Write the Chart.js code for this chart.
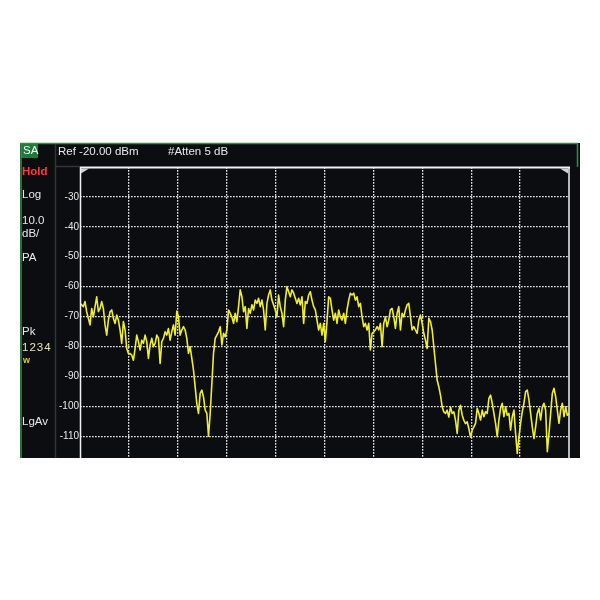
<!DOCTYPE html>
<html>
<head>
<meta charset="utf-8">
<script src="https://cdn.jsdelivr.net/npm/chart.js@4"></script>
<style>
  html, body { margin: 0; background: #fff; }
  #wrap { position: relative; width: 600px; height: 600px; }
  #wrap canvas { position: absolute; left: 0; top: 0; }
  .lbl {
    position: absolute; transform: translateY(-50%);
    font: 11.5px "Liberation Sans", Arial, sans-serif; line-height: 1;
    color: #e8e8e8; white-space: nowrap;
  }
</style>
</head>
<body>
<div id="wrap">
  <canvas id="sa" width="600" height="600"></canvas>
  <div class="lbl" style="left:23px;top:151px;color:#fff">SA</div>
  <div class="lbl" style="left:22px;top:172px;color:#ff3a3a;font-weight:bold">Hold</div>
  <div class="lbl" style="left:22px;top:195px">Log</div>
  <div class="lbl" style="left:22px;top:221px">10.0</div>
  <div class="lbl" style="left:22px;top:234px">dB/</div>
  <div class="lbl" style="left:22px;top:258px">PA</div>
  <div class="lbl" style="left:22px;top:332px">Pk</div>
  <div class="lbl" style="left:22px;top:348px;letter-spacing:1px;color:#ece6b4">1234</div>
  <div class="lbl" style="left:23px;top:360px;font-size:9px;font-weight:bold;color:#d8cc20">w</div>
  <div class="lbl" style="left:22px;top:422px">LgAv</div>
  <div class="lbl" style="left:58px;top:152px">Ref -20.00 dBm</div>
  <div class="lbl" style="left:168px;top:152px">#Atten 5 dB</div>
</div>
<script>
  // amplitude axis (dBm), reference level at top
  const refLevel = -20;
  const bottomLevel = -117.3;
  const yTickLabels = [-30, -40, -50, -60, -70, -80, -90, -100, -110];
  // horizontal divisions of the graticule
  const xDivisions = [1, 2, 3, 4, 5, 6, 7, 8, 9];
  const spanDivs = 10;

  // trace, left to right, evenly spaced sweep points
  const traceDb = [
    -65.6, -66.1, -66.7, -65.0, -68.4, -70.6, -72.8, -67.3, -70.1, -66.7,
    -63.4, -68.4, -67.3, -65.0, -67.3, -72.8, -76.2, -71.2, -68.4, -67.8,
    -70.6, -72.3, -69.5, -71.2, -74.5, -79.0, -71.7, -74.5, -80.7, -82.4,
    -82.4, -82.9, -84.6, -80.7, -76.2, -78.4, -81.2, -77.9, -79.0, -76.2,
    -78.4, -84.0, -79.5, -77.3, -80.1, -79.0, -76.2, -77.3, -85.7, -78.4,
    -77.3, -75.1, -76.2, -74.0, -77.9, -75.1, -72.8, -76.2, -68.2,
    -70.1, -76.2, -74.5, -73.4, -74.5, -77.3, -82.3, -80.1, -84.0, -87.9,
    -93.5, -99.1, -102.4, -95.7, -94.6, -96.9, -101.3, -102.4, -110.0, -102.4,
    -92.4, -82.3, -77.3, -76.2, -75.1, -73.4, -79.5, -75.6, -76.8, -74.5,
    -67.8, -68.9, -70.1, -72.3, -68.9, -71.7, -66.7, -61.1, -63.4, -68.4,
    -66.7, -74.0, -67.3, -68.9, -66.1, -67.8, -64.5, -65.6, -63.9, -66.7,
    -64.5, -67.8, -74.5, -65.6, -62.8, -61.1, -64.5, -66.1, -67.8, -70.1,
    -62.8, -66.7, -68.9, -73.4, -64.5, -60.0, -61.7, -63.4, -61.1, -62.2,
    -63.9, -65.6, -63.9, -66.1, -63.4, -72.3, -65.0, -65.6, -62.8, -61.7,
    -64.5, -66.7, -67.8, -71.2, -74.5, -72.3, -76.2, -72.3, -78.4, -71.7,
    -63.4, -63.9, -67.8, -71.2, -68.9, -72.3, -67.8, -70.1, -71.2, -68.9,
    -72.3, -67.8, -64.5, -62.2, -62.8, -62.2, -64.5, -63.4, -66.7, -65.6,
    -70.1, -73.4, -72.3, -74.5, -72.3, -81.2, -75.6, -75.1, -74.5, -73.4,
    -74.5, -72.3, -80.1, -72.3, -70.1, -73.4, -71.2, -67.8, -67.3, -70.1,
    -74.0, -68.9, -66.7, -74.5, -68.9, -70.1, -67.8, -66.1, -65.6, -70.1,
    -74.5, -73.4, -74.5, -75.6, -71.2, -69.5, -72.3, -75.6, -77.9, -80.7,
    -70.6, -71.7, -74.5, -80.1, -85.7, -91.3, -93.5, -96.3, -100.2, -101.9,
    -102.4, -101.3, -103.6, -100.2, -102.4, -101.9, -104.7, -109.1, -101.3, -99.7,
    -103.0, -104.7, -105.8, -105.2, -107.5, -110.3, -108.0, -106.9,
    -105.7, -100.7, -102.4, -104.6, -101.3, -103.5, -101.8, -102.4, -97.4, -96.3,
    -99.0, -102.4, -105.7, -110.2, -104.6, -100.7, -99.0, -103.5, -100.2, -103.0,
    -102.4, -108.0, -103.5, -101.3, -109.1, -115.8, -110.2, -105.7, -101.8, -99.0,
    -95.1, -94.6, -97.9, -102.4, -106.9, -110.8, -106.9, -102.4, -100.7, -104.6,
    -100.2, -99.0, -101.3, -115.2, -109.1, -102.4, -95.7, -94.0, -96.8, -101.3,
    -105.7, -101.3, -99.0, -103.5, -100.2, -103.0, -102.4
  ];

  const points = traceDb.map((v, i) => ({ x: i * spanDivs / (traceDb.length - 1), y: v }));

  const GREEN = '#2f8f47';

  const screenFrame = {
    id: 'screenFrame',
    beforeDraw(chart) {
      const c = chart.ctx;
      c.save();
      c.fillStyle = '#0b0d10';
      c.fillRect(20, 143, 560, 315);
      // SA badge
      c.fillStyle = '#1f7a3a';
      c.fillRect(21, 144, 17, 14);
      c.lineWidth = 1.5;
      // outer green edges
      c.strokeStyle = GREEN;
      c.beginPath();
      c.moveTo(20, 143.5); c.lineTo(578, 143.5);
      c.moveTo(21, 143); c.lineTo(21, 458);
      c.moveTo(577.5, 143); c.lineTo(577.5, 167);
      c.stroke();
      // sidebar and header separators
      c.strokeStyle = '#2c3a33';
      c.beginPath();
      c.moveTo(55.5, 144); c.lineTo(55.5, 458);
      c.moveTo(56, 166.5); c.lineTo(80, 166.5);
      c.stroke();
      c.restore();
    },
    afterDraw(chart) {
      const { left, right, top, bottom } = chart.chartArea;
      const c = chart.ctx;
      c.save();
      c.strokeStyle = '#f2f2f2';
      c.lineWidth = 2;
      c.beginPath();
      c.moveTo(left, top + 0.5); c.lineTo(right + 1, top + 0.5);
      c.stroke();
      c.lineWidth = 1.5;
      c.beginPath();
      c.moveTo(left + 0.5, top); c.lineTo(left + 0.5, bottom);
      c.moveTo(right, top); c.lineTo(right, bottom);
      c.stroke();
      c.fillStyle = '#d4d4d4';
      c.beginPath();
      c.moveTo(left + 1, top + 1.5); c.lineTo(left + 9, top + 1.5); c.lineTo(left + 1, top + 6.5);
      c.closePath(); c.fill();
      c.beginPath();
      c.moveTo(right - 1, top + 1.5); c.lineTo(right - 9, top + 1.5); c.lineTo(right - 1, top + 6.5);
      c.closePath(); c.fill();
      c.restore();
    }
  };

  const gridStyle = { color: 'rgba(240,240,240,0.95)', lineWidth: 1.3, drawTicks: false };

  new Chart(document.getElementById('sa'), {
    type: 'line',
    data: {
      datasets: [{
        data: points,
        borderColor: '#eeee34',
        borderWidth: 1.6,
        borderJoinStyle: 'round',
        pointRadius: 0,
        tension: 0,
      }],
    },
    options: {
      responsive: false,
      animation: false,
      layout: { padding: { left: 20, top: 167, right: 31, bottom: 142 } },
      plugins: { legend: { display: false }, tooltip: { enabled: false } },
      scales: {
        x: {
          type: 'linear', min: 0, max: spanDivs,
          afterBuildTicks: (s) => { s.ticks = xDivisions.map((v) => ({ value: v })); },
          afterFit: (s) => { s.height = 0; },
          ticks: { display: false },
          grid: gridStyle,
          border: { display: false, dash: [1.7, 1.3] },
        },
        y: {
          min: bottomLevel, max: refLevel,
          afterBuildTicks: (s) => { s.ticks = yTickLabels.map((v) => ({ value: v })); },
          afterFit: (s) => { s.width = 60; },
          ticks: {
            color: '#e8e8e8', padding: 1,
            font: { family: '"Liberation Sans", Arial, sans-serif', size: 10 },
          },
          grid: gridStyle,
          border: { display: false, dash: [1.7, 1.3] },
        },
      },
    },
    plugins: [screenFrame],
  });
</script>
</body>
</html>
